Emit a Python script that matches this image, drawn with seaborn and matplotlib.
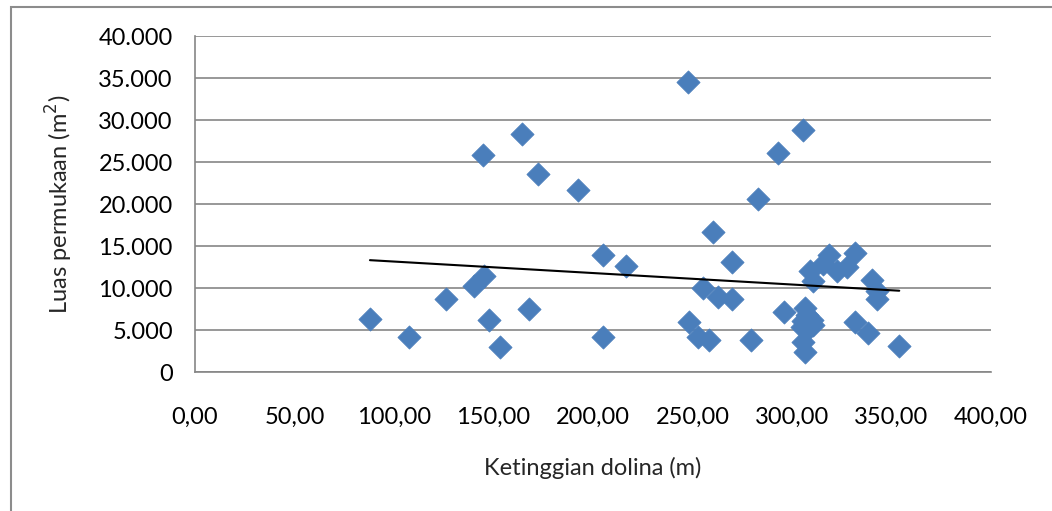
import matplotlib
matplotlib.use("Agg")
import matplotlib.pyplot as plt
import seaborn as sns
import pandas as pd
from matplotlib.ticker import FuncFormatter, MultipleLocator
from matplotlib.patches import Rectangle

# Ketinggian dolina (m)
ketinggian = [87.9, 107.7, 126.1, 140.4, 145.2, 144.5, 147.6, 153.3, 164.3, 167.8,
              172.5, 192.6, 204.9, 204.9, 216.4, 247.9, 248.4, 252.6, 255.4, 258.4,
              260.2, 263.0, 269.7, 269.7, 279.4, 282.8, 292.8, 296.0, 305.7, 309.0,
              310.4, 315.7, 318.4, 322.8, 327.5, 331.8, 340.4, 342.6, 342.6, 306.5,
              307.4, 309.9, 305.7, 310.4, 304.9, 307.4, 305.7, 306.5, 331.7, 338.4,
              353.9]
# Luas permukaan (m2)
luas = [6300, 4200, 8700, 10200, 11400, 25800, 6200, 3000, 28400, 7500,
        23600, 21700, 14000, 4200, 12600, 34600, 5900, 4200, 10000, 3800,
        16700, 8900, 13100, 8700, 3800, 20600, 26100, 7100, 28800, 12000,
        10800, 12900, 14000, 12000, 12500, 14200, 11000, 9600, 8700, 7600,
        6800, 6200, 6100, 5600, 5400, 5000, 3600, 2400, 6000, 4600,
        3100]

df = pd.DataFrame({"Ketinggian": ketinggian, "Luas": luas})

sns.set_style("white")
plt.rcParams["font.family"] = ["Lato", "DejaVu Sans"]

fig = plt.figure(figsize=(10.52, 5.11), dpi=100)
ax = fig.add_axes([0.1854, 0.272, 0.7566, 0.657])

grid_col = "#868686"
ax.yaxis.grid(True, color=grid_col, linewidth=1.2)
ax.set_axisbelow(True)

sns.scatterplot(data=df, x="Ketinggian", y="Luas", marker="D", s=140,
                color="#4A7EBB", edgecolor="#4A7EBB", linewidth=0.5, ax=ax, zorder=3)
sns.regplot(data=df, x="Ketinggian", y="Luas", scatter=False, ci=None,
            line_kws={"color": "black", "linewidth": 1.5, "zorder": 4}, ax=ax)

ax.set_xlim(0, 400)
ax.set_ylim(0, 40000)
ax.xaxis.set_major_locator(MultipleLocator(50))
ax.yaxis.set_major_locator(MultipleLocator(5000))
ax.xaxis.set_major_formatter(FuncFormatter(lambda v, p: f"{v:.2f}".replace(".", ",")))
ax.yaxis.set_major_formatter(FuncFormatter(lambda v, p: f"{int(v):,}".replace(",", ".")))

for side in ["top", "right"]:
    ax.spines[side].set_visible(False)
for side in ["left", "bottom"]:
    ax.spines[side].set_color(grid_col)
    ax.spines[side].set_linewidth(1.2)

ax.tick_params(axis="both", which="major", direction="out", length=6, width=1.2,
               color=grid_col, labelsize=17, labelcolor="black")
ax.tick_params(axis="x", pad=19)
ax.tick_params(axis="y", pad=10)

ax.set_xlabel("Ketinggian dolina (m)", fontsize=17, labelpad=21)
ax.set_ylabel("Luas permukaan (m$^2$)", fontsize=17, labelpad=17)

# chart area border (cut off at right and bottom like the source image)
fig.patches.append(Rectangle((11 / 1052, -0.1), 1.2, 1.1 - 7 / 511,
                             transform=fig.transFigure, fill=False,
                             edgecolor="#8C8C8C", linewidth=1.5))

fig.savefig("out.png", dpi=100)
